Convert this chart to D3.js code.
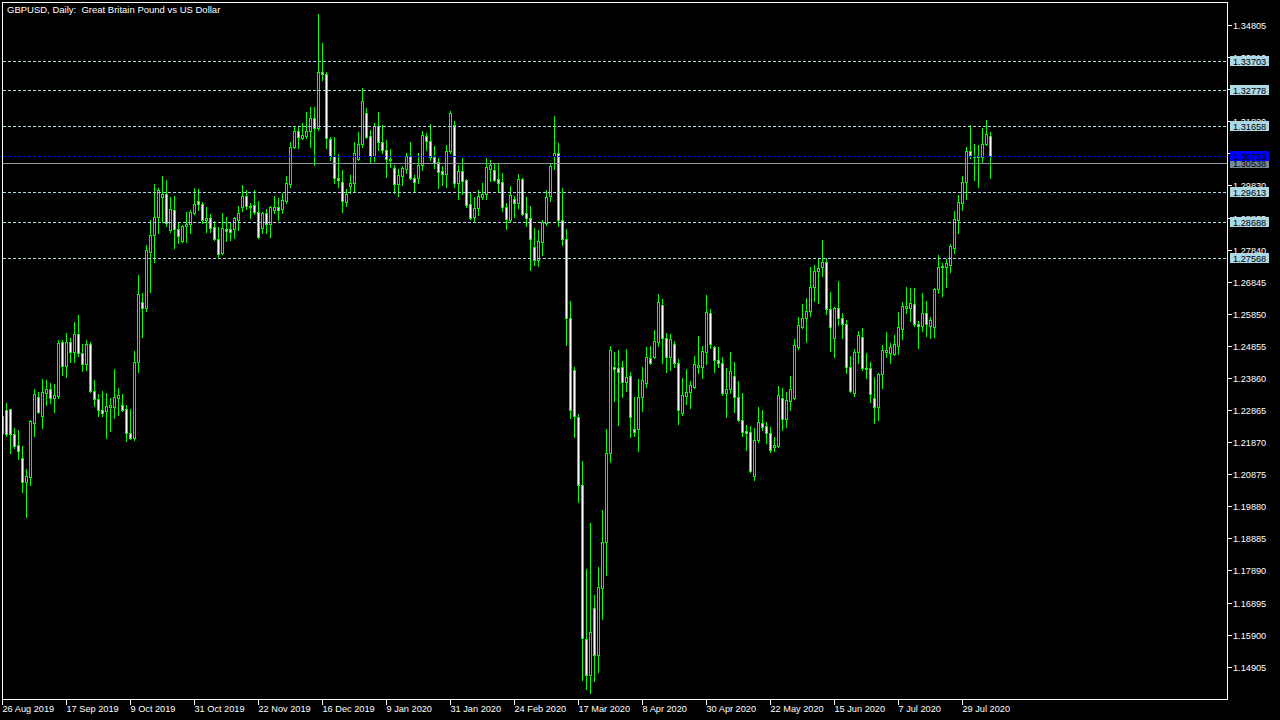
<!DOCTYPE html>
<html><head><meta charset="utf-8">
<script src="https://cdn.jsdelivr.net/npm/d3@7"></script>
<style>html,body{margin:0;padding:0;background:#000;overflow:hidden}</style>
</head><body>
<script>
const title = "GBPUSD, Daily:  Great Britain Pound vs US Dollar";
const dateLabels = ["26 Aug 2019","17 Sep 2019","9 Oct 2019","31 Oct 2019","22 Nov 2019","16 Dec 2019","9 Jan 2020","31 Jan 2020","24 Feb 2020","17 Mar 2020","8 Apr 2020","30 Apr 2020","22 May 2020","15 Jun 2020","7 Jul 2020","29 Jul 2020"];
const priceTicks = ["1.34805","1.33810","1.32815","1.31820","1.30825","1.29830","1.28835","1.27840","1.26845","1.25850","1.24855","1.23860","1.22865","1.21870","1.20875","1.19880","1.18885","1.17890","1.16895","1.15900","1.14905"];
const levelLines = [1.33703, 1.32778, 1.31658, 1.29613, 1.28688, 1.27568];
const bidPrice = 1.30733;
const greyLine = 1.30538;

const opens = [
1.22684,1.22870,1.22901,1.22126,1.21785,1.21382,1.20638,1.20793,1.22467,1.23273,
1.22684,1.23397,1.23521,1.23242,1.23304,1.24978,1.24234,1.24978,1.24668,1.25226,
1.24637,1.24296,1.24916,1.23459,1.23211,1.22870,1.22839,1.22963,1.22963,1.23242,
1.23025,1.22901,1.22157,1.22002,1.24358,1.26218,1.26032,1.27768,1.28295,1.28853,
1.29473,1.29566,1.28450,1.29070,1.28481,1.28109,1.28574,1.28636,1.28977,1.29349,
1.29256,1.28760,1.28822,1.28543,1.28171,1.27737,1.28481,1.28481,1.28481,1.28760,
1.29163,1.29504,1.29194,1.29225,1.29008,1.28512,1.28977,1.28636,1.29070,1.29163,
1.29101,1.29349,1.29876,1.31023,1.31519,1.31302,1.31364,1.31519,1.31922,1.31612,
1.33348,1.33286,1.31271,1.30744,1.30062,1.29938,1.29318,1.29814,1.29907,1.30651,
1.31116,1.32077,1.31364,1.30744,1.31674,1.31178,1.30930,1.30651,1.30372,1.29876,
1.30124,1.30341,1.30744,1.30062,1.30062,1.30465,1.31364,1.31209,1.30713,1.30558,
1.30279,1.30186,1.30899,1.31705,1.29907,1.30279,1.30000,1.29256,1.28853,1.29132,
1.29473,1.29566,1.30341,1.30310,1.30031,1.29938,1.29163,1.28760,1.29411,1.29287,
1.30031,1.28977,1.28822,1.27923,1.27520,1.28078,1.28667,1.29504,1.30744,1.30837,
1.28760,1.28171,1.25722,1.24110,1.22653,1.20545,1.15771,1.14655,1.16732,1.15275,
1.17352,1.18778,1.21537,1.24203,1.24172,1.24203,1.23738,1.23924,1.22281,1.22281,
1.23273,1.23707,1.24482,1.24513,1.24978,1.26125,1.25102,1.24513,1.24916,1.24327,
1.22777,1.23304,1.23428,1.23583,1.24203,1.24203,1.24668,1.25877,1.24823,1.24420,
1.24327,1.23397,1.23521,1.23924,1.23273,1.22560,1.22219,1.22188,1.20824,1.21940,
1.22467,1.22374,1.22157,1.21723,1.21754,1.23242,1.22591,1.23149,1.23242,1.24823,
1.25443,1.25722,1.25939,1.26683,1.27179,1.27303,1.27458,1.26001,1.25102,1.26032,
1.25722,1.25536,1.24203,1.23397,1.24668,1.25133,1.24172,1.24172,1.23242,1.22963,
1.23986,1.24668,1.24637,1.24606,1.24854,1.25381,1.26032,1.26032,1.26156,1.25536,
1.25474,1.25877,1.25474,1.25443,1.26621,1.27303,1.27303,1.27365,1.27892,1.28760,
1.29287,1.29938,1.30899,1.30744,1.30713,1.30713,1.31116,1.31364];

const highs = [
1.23025,1.23087,1.22901,1.22312,1.22250,1.21754,1.21041,1.22560,1.23521,1.23428,
1.23831,1.23800,1.23707,1.23676,1.25040,1.25040,1.25257,1.25102,1.25598,1.25815,
1.24916,1.25040,1.24978,1.23800,1.23366,1.23459,1.23397,1.23242,1.24141,1.23552,
1.23366,1.23025,1.22901,1.24699,1.27055,1.26497,1.27985,1.28760,1.29876,1.29752,
1.30124,1.30000,1.29473,1.29504,1.28667,1.28605,1.29008,1.29070,1.29752,1.29721,
1.29318,1.29163,1.28946,1.28729,1.28543,1.28977,1.28853,1.28667,1.28853,1.29194,
1.29845,1.29690,1.29287,1.29690,1.29349,1.29008,1.29101,1.29194,1.29504,1.29442,
1.29597,1.30124,1.31178,1.31674,1.31643,1.31767,1.32108,1.32263,1.32263,1.35146,
1.34247,1.33348,1.31333,1.31333,1.30806,1.30310,1.29721,1.30155,1.31178,1.31488,
1.32852,1.32232,1.31550,1.31767,1.32108,1.31705,1.31240,1.30961,1.30465,1.30341,
1.30434,1.30837,1.31178,1.30155,1.30837,1.31519,1.31457,1.31736,1.31054,1.30682,
1.30434,1.31085,1.32139,1.31829,1.30465,1.30682,1.30031,1.29597,1.29473,1.29690,
1.29907,1.30682,1.30620,1.30527,1.30527,1.30217,1.29287,1.29814,1.29504,1.30186,
1.30062,1.29473,1.29194,1.28512,1.28450,1.28760,1.29690,1.30527,1.31984,1.31147,
1.29752,1.28481,1.26249,1.24203,1.22746,1.21289,1.17941,1.19367,1.17135,1.18003,
1.19770,1.22281,1.24854,1.24668,1.24730,1.24389,1.24761,1.24048,1.23273,1.23831,
1.24203,1.24823,1.24854,1.25350,1.26466,1.26311,1.25257,1.25226,1.25009,1.24451,
1.23862,1.24141,1.23769,1.24544,1.25164,1.24854,1.26435,1.26001,1.24854,1.24823,
1.24513,1.24172,1.24668,1.24358,1.23769,1.23397,1.22405,1.22374,1.22312,1.22963,
1.22870,1.22498,1.22343,1.22033,1.23614,1.23552,1.23428,1.23924,1.25071,1.25753,
1.26156,1.26342,1.27303,1.27365,1.27582,1.28140,1.27582,1.26528,1.26063,1.26869,
1.25877,1.25660,1.24544,1.24761,1.25319,1.25412,1.24637,1.24358,1.23893,1.24017,
1.24885,1.25288,1.24947,1.25195,1.25908,1.26218,1.26683,1.26652,1.26652,1.25629,
1.26497,1.26249,1.25753,1.26652,1.27675,1.27427,1.27551,1.28016,1.29039,1.29535,
1.30124,1.31023,1.31705,1.31116,1.31085,1.31612,1.31860,1.31488];

const lows = [
1.21940,1.22064,1.21537,1.21692,1.21351,1.20328,1.19553,1.20545,1.22064,1.22777,
1.22312,1.23025,1.23087,1.22808,1.23242,1.23955,1.23893,1.24358,1.24358,1.24544,
1.24079,1.24110,1.23428,1.22994,1.22684,1.22684,1.22002,1.22219,1.22622,1.22715,
1.22839,1.21909,1.21971,1.21940,1.24048,1.25133,1.25939,1.26528,1.27458,1.28357,
1.28698,1.28574,1.28388,1.27892,1.28047,1.28078,1.28078,1.28357,1.28946,1.29070,
1.28667,1.28388,1.28388,1.28140,1.27613,1.27706,1.28109,1.28140,1.28202,1.28450,
1.29039,1.29101,1.28822,1.28946,1.28202,1.28357,1.28357,1.28233,1.28977,1.28760,
1.28977,1.29287,1.29783,1.30992,1.30992,1.31271,1.31302,1.31023,1.30465,1.31550,
1.33100,1.30992,1.30620,1.29907,1.29783,1.29008,1.29194,1.29597,1.29659,1.30620,
1.31023,1.31302,1.30527,1.30589,1.30930,1.30837,1.30093,1.30403,1.29597,1.29504,
1.29845,1.30217,1.30031,1.29628,1.29907,1.30310,1.30930,1.30620,1.30372,1.29752,
1.29845,1.29783,1.30837,1.29783,1.29411,1.29566,1.29163,1.28791,1.28698,1.28915,
1.29411,1.29411,1.29969,1.29969,1.29659,1.29039,1.28481,1.28729,1.28853,1.29132,
1.28915,1.28574,1.27210,1.27365,1.27334,1.27675,1.28605,1.29349,1.30341,1.28574,
1.27985,1.24885,1.22622,1.22033,1.20018,1.14500,1.14221,1.14097,1.14469,1.14748,
1.16391,1.17755,1.21258,1.23149,1.22405,1.23273,1.23459,1.22033,1.22064,1.21599,
1.22839,1.23583,1.24296,1.24482,1.24854,1.24327,1.24048,1.24110,1.24203,1.22436,
1.22715,1.23056,1.22932,1.23552,1.24017,1.23862,1.24296,1.24792,1.24048,1.24203,
1.23335,1.22653,1.23397,1.22808,1.22529,1.22064,1.21630,1.20948,1.20700,1.21878,
1.22250,1.21847,1.21568,1.21599,1.21723,1.22250,1.22343,1.22870,1.23211,1.24761,
1.25412,1.24978,1.25784,1.26249,1.26187,1.27024,1.25846,1.24699,1.24513,1.25505,
1.25102,1.24017,1.23428,1.23304,1.24327,1.24110,1.23862,1.23118,1.22467,1.22560,
1.23552,1.24513,1.24327,1.24575,1.24606,1.25071,1.25877,1.25629,1.25474,1.24792,
1.25319,1.25164,1.25102,1.25133,1.26497,1.26404,1.26683,1.27148,1.27737,1.28357,
1.29070,1.29411,1.30682,1.30000,1.29783,1.30527,1.31085,1.30062];

const closes = [
1.22157,1.22126,1.22126,1.21754,1.21599,1.20638,1.20824,1.22529,1.23366,1.22808,
1.23428,1.23521,1.23242,1.23335,1.24947,1.24234,1.24978,1.24668,1.25226,1.24637,
1.24296,1.24916,1.23459,1.23211,1.22870,1.22777,1.22994,1.23025,1.23273,1.23335,
1.22870,1.22157,1.22002,1.24358,1.26466,1.26032,1.27830,1.28295,1.28853,1.29690,
1.29566,1.28667,1.29101,1.28481,1.28264,1.28574,1.28636,1.29008,1.29256,1.29256,
1.28760,1.28822,1.28512,1.28171,1.27706,1.28512,1.28419,1.28388,1.28822,1.28977,
1.29504,1.29194,1.29163,1.29008,1.28233,1.28977,1.28636,1.29163,1.29163,1.29070,
1.29380,1.29907,1.31023,1.31519,1.31333,1.31395,1.31519,1.31922,1.31612,1.33348,
1.33286,1.31302,1.30744,1.30062,1.30000,1.29349,1.29566,1.29907,1.30837,1.31116,
1.32449,1.31333,1.30744,1.31674,1.31178,1.30930,1.30651,1.30620,1.29876,1.30155,
1.30372,1.30744,1.30062,1.29938,1.30465,1.31395,1.31209,1.30713,1.30527,1.30248,
1.30186,1.30899,1.32077,1.29907,1.30279,1.29969,1.29225,1.28822,1.29132,1.29504,
1.29566,1.30403,1.30465,1.30000,1.29907,1.29163,1.28791,1.29535,1.29287,1.30031,
1.28946,1.28822,1.28171,1.27520,1.28109,1.28698,1.29473,1.30434,1.30837,1.28760,
1.28171,1.25722,1.22870,1.22684,1.20545,1.15802,1.14655,1.15988,1.15275,1.17383,
1.18778,1.21537,1.24730,1.24141,1.24048,1.23738,1.23893,1.22653,1.22188,1.23273,
1.23800,1.24513,1.24327,1.25009,1.26218,1.25102,1.24513,1.25071,1.24327,1.22870,
1.23335,1.23428,1.23645,1.24296,1.24265,1.24699,1.25908,1.24916,1.24420,1.24327,
1.23397,1.23521,1.24079,1.23273,1.22560,1.22188,1.22157,1.20979,1.21940,1.22498,
1.22343,1.22157,1.21630,1.21785,1.23335,1.22591,1.23180,1.23521,1.24885,1.25505,
1.25722,1.25939,1.26683,1.27179,1.27272,1.27458,1.26001,1.25443,1.26032,1.25722,
1.25536,1.24203,1.23459,1.24668,1.25195,1.24172,1.24141,1.23366,1.22963,1.23986,
1.24730,1.24730,1.24823,1.24916,1.25443,1.26094,1.26094,1.26187,1.25536,1.25474,
1.25877,1.25536,1.25660,1.26621,1.27303,1.27334,1.27427,1.27954,1.28791,1.29318,
1.29938,1.30899,1.30775,1.30713,1.30744,1.31116,1.31426,1.30733];

const W = 1280, H = 720;
const L = 2, R = 1227, T = 2, B = 699;
const N = opens.length;
const LIME = "#00ff00";
const FONT = "'Liberation Sans', Arial, sans-serif";

const x = d3.scaleBand().domain(d3.range(N)).range([0, 4 * N]);
const y = d3.scaleLinear().domain([1.14905, 1.34805]).range([666.7, 25]);

const svg = d3.select("body").append("svg")
  .attr("width", W).attr("height", H)
  .attr("shape-rendering", "crispEdges")
  .style("display", "block").style("background", "#000");

svg.append("defs").append("clipPath").attr("id", "plot")
  .append("rect").attr("x", L + 1).attr("y", T + 1).attr("width", R - L - 1).attr("height", B - T - 1);

const bars = d3.range(N).map(i => ({i, o: opens[i], h: highs[i], l: lows[i], c: closes[i]}));

const gC = svg.append("g").attr("clip-path", "url(#plot)");
const cand = gC.selectAll("g.c").data(bars).join("g").attr("class", "c");
cand.each(function(d) {
  const g = d3.select(this);
  const cx = x(d.i) + 2;
  const yh = Math.round(y(d.h)), yl = Math.round(y(d.l));
  const yo = Math.round(y(d.o)), yc = Math.round(y(d.c));
  const top = Math.min(yo, yc), bot = Math.max(yo, yc);
  g.append("rect").attr("x", cx).attr("y", yh).attr("width", 1).attr("height", yl - yh + 1).attr("fill", LIME);
  g.append("rect").attr("x", cx - 1).attr("y", top).attr("width", 3).attr("height", bot - top + 1).attr("fill", LIME);
  if (bot - top >= 2) {
    g.append("rect").attr("x", cx).attr("y", top + 1).attr("width", 1).attr("height", bot - top - 1)
      .attr("fill", d.c > d.o ? "#000" : "#fff");
  }
});

// horizontal level lines
const gLines = svg.append("g");
levelLines.forEach(v => {
  const yy = Math.round(y(v)) + 0.5;
  gLines.append("line").attr("x1", L + 1).attr("x2", R).attr("y1", yy).attr("y2", yy)
    .attr("stroke", "#add8e6").attr("stroke-width", 1).attr("stroke-dasharray", "3,2");
});
{
  const yg = Math.round(y(greyLine)) + 0.5;
  gLines.append("line").attr("x1", L + 1).attr("x2", R).attr("y1", yg).attr("y2", yg)
    .attr("stroke", "#8a96a0").attr("stroke-width", 1);
  const yb = Math.round(y(bidPrice)) + 0.5;
  gLines.append("line").attr("x1", L + 1).attr("x2", R).attr("y1", yb).attr("y2", yb)
    .attr("stroke", "#0000ff").attr("stroke-width", 1).attr("stroke-dasharray", "3,2");
}

// frame
const frame = svg.append("g").attr("fill", "#fff");
frame.append("rect").attr("x", L).attr("y", T).attr("width", R - L + 1).attr("height", 1);
frame.append("rect").attr("x", L).attr("y", B).attr("width", R - L + 1).attr("height", 1);
frame.append("rect").attr("x", L).attr("y", T).attr("width", 1).attr("height", B - T + 1);
frame.append("rect").attr("x", R).attr("y", T).attr("width", 1).attr("height", B - T + 1);

// right price axis
const gY = svg.append("g");
priceTicks.forEach(s => {
  const yy = Math.round(y(+s));
  gY.append("rect").attr("x", R + 1).attr("y", yy).attr("width", 4).attr("height", 1).attr("fill", "#fff");
  gY.append("text").attr("x", R + 6).attr("y", yy + 3.5).attr("fill", "#fff")
    .attr("font-family", FONT).attr("font-size", "9.2px").text(s);
});

function priceBox(v, fill, color) {
  const yy = Math.round(y(v));
  gY.append("rect").attr("x", R + 3).attr("y", yy - 5).attr("width", 39).attr("height", 10).attr("fill", fill);
  gY.append("text").attr("x", R + 6).attr("y", yy + 3.5).attr("fill", color)
    .attr("font-family", FONT).attr("font-size", "9.2px").text(v.toFixed(5));
}
levelLines.forEach(v => priceBox(v, "#add8e6", "#000"));
priceBox(greyLine, "#778899", "#000");
priceBox(bidPrice, "#0000ff", "#000");

// bottom date axis
const gX = svg.append("g");
dateLabels.forEach((s, j) => {
  const xx = x(16 * j) + 2;
  gX.append("rect").attr("x", xx).attr("y", B).attr("width", 1).attr("height", 6).attr("fill", "#fff");
  gX.append("text").attr("x", xx + 0.5).attr("y", 712).attr("fill", "#fff")
    .attr("font-family", FONT).attr("font-size", "9.2px").text(s);
});

// title
svg.append("text").attr("x", 7).attr("y", 12.5).attr("fill", "#fff")
  .attr("font-family", FONT).attr("font-size", "9.5px").attr("xml:space", "preserve")
  .style("white-space", "pre").text(title);
</script>
</body></html>
